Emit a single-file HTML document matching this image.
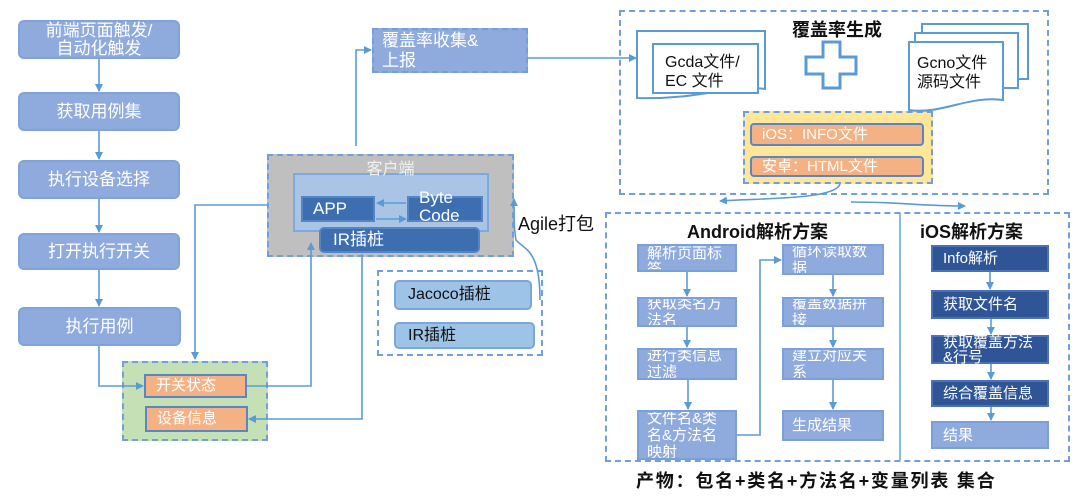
<!DOCTYPE html>
<html><head><meta charset="utf-8"><style>
body{margin:0;width:1080px;height:499px;background:#fff;position:relative;overflow:hidden;font-family:"Liberation Sans","Noto Sans CJK SC",sans-serif}
.b{position:absolute;box-sizing:border-box;display:flex;align-items:center;color:#fff;font-size:16px;line-height:18px}
.c{justify-content:center;text-align:center}
.lb{background:#8faadc;border:2px solid #7fa3db;border-radius:6px}
.ab{background:#8faadc;border:2px solid #7b9fd9;padding-left:8px;font-size:15px;line-height:17px;white-space:nowrap;overflow:hidden}
.ib{background:#2f5597;border:2px solid #4a72b8;padding-left:10px;font-size:15px;white-space:nowrap}
.or{background:#f4b183;border:2px solid #5b86c5;padding-left:10px;font-size:15px}
.dash{position:absolute;box-sizing:border-box;border:2px dashed #6fa0dc}
.t{position:absolute;font-weight:bold;color:#111;white-space:nowrap}
svg{position:absolute;left:0;top:0}
</style></head><body>
<div class="b c lb" style="left:18px;top:20px;width:162px;height:39px;font-size:17px">前端页面触发/<br>自动化触发</div>
<div class="b c lb" style="left:18px;top:92px;width:162px;height:39px;font-size:17px">获取用例集</div>
<div class="b c lb" style="left:18px;top:160px;width:162px;height:39px;font-size:17px">执行设备选择</div>
<div class="b c lb" style="left:18px;top:233px;width:162px;height:37px;font-size:17px">打开执行开关</div>
<div class="b c lb" style="left:18px;top:307px;width:163px;height:39px;font-size:17px">执行用例</div>

<div class="dash" style="left:372px;top:28px;width:156px;height:45px;background:#8faadc"></div>
<div class="b" style="left:382px;top:30px;font-size:17px;line-height:20px;width:140px;height:42px">覆盖率收集&amp;<br>上报</div>

<div class="dash" style="left:267px;top:154px;width:247px;height:103px;background:#bfbfbf"></div>
<div class="b" style="left:293px;top:173px;width:196px;height:59px;background:#a9c4e4;border:2px solid #7fa8dc"></div>
<div class="b c" style="left:267px;top:160px;width:247px;height:20px;font-size:16px;color:#f2f2f2">客户端</div>
<div class="b" style="left:301px;top:196px;width:74px;height:26px;background:#3d6eb0;border:2px solid #5585c5;padding-left:10px;font-size:17px">APP</div>
<div class="b" style="left:407px;top:196px;width:76px;height:26px;background:#3d6eb0;border:2px solid #5585c5;padding-left:10px;font-size:17px;line-height:18px;align-items:flex-start;overflow:visible"><span style="margin-top:-9px">Byte<br>Code</span></div>
<div class="b" style="left:319px;top:227px;width:161px;height:26px;background:#3d6eb0;border:2px solid #5585c5;border-radius:5px;padding-left:12px;font-size:17px">IR插桩</div>

<div class="dash" style="left:122px;top:361px;width:146px;height:80px;background:#c5e0b4"></div>
<div class="b or" style="left:144px;top:374px;width:103px;height:24px">开关状态</div>
<div class="b or" style="left:145px;top:406px;width:103px;height:26px">设备信息</div>

<div class="dash" style="left:377px;top:270px;width:166px;height:86px"></div>
<div class="b" style="left:394px;top:280px;width:138px;height:30px;background:#9dc3e6;border:2px solid #7aa6dc;border-radius:5px;color:#111;padding-left:12px;font-size:16px">Jacoco插桩</div>
<div class="b" style="left:394px;top:322px;width:141px;height:27px;background:#9dc3e6;border:2px solid #7aa6dc;border-radius:5px;color:#111;padding-left:12px;font-size:16px">IR插桩</div>
<div class="t" style="left:518px;top:210px;font-size:18px;font-weight:normal">Agile打包</div>

<div class="dash" style="left:619px;top:10px;width:430px;height:185px"></div>
<div class="t" style="left:792px;top:16px;font-size:18px">覆盖率生成</div>
<div class="dash" style="left:743px;top:111px;width:190px;height:73px;background:#ffe699"></div>
<div class="b or" style="left:750px;top:123px;width:174px;height:23px;border-radius:4px;font-size:15px">iOS：INFO文件</div>
<div class="b or" style="left:750px;top:156px;width:174px;height:21px;border-radius:4px;font-size:15px">安卓：HTML文件</div>

<div class="dash" style="left:605px;top:212px;width:465px;height:250px"></div>
<div class="t" style="left:687px;top:218px;font-size:18px">Android解析方案</div>
<div class="t" style="left:920px;top:218px;font-size:18px">iOS解析方案</div>
<div class="b ab" style="left:637px;top:244px;width:100px;height:28px;align-items:flex-start;line-height:16px">解析页面标<br>签</div>
<div class="b ab" style="left:637px;top:297px;width:100px;height:30px">获取类名方<br>法名</div>
<div class="b ab" style="left:637px;top:348px;width:100px;height:32px">进行类信息<br>过滤</div>
<div class="b ab" style="left:637px;top:410px;width:100px;height:50px">文件名&amp;类<br>名&amp;方法名<br>映射</div>
<div class="b ab" style="left:782px;top:244px;width:102px;height:31px">循环读取数<br>据</div>
<div class="b ab" style="left:782px;top:297px;width:102px;height:30px">覆盖数据拼<br>接</div>
<div class="b ab" style="left:782px;top:348px;width:102px;height:32px">建立对应关<br>系</div>
<div class="b ab" style="left:782px;top:410px;width:102px;height:31px">生成结果</div>
<div class="b ib" style="left:931px;top:245px;width:118px;height:27px">Info解析</div>
<div class="b ib" style="left:931px;top:290px;width:118px;height:29px">获取文件名</div>
<div class="b ib" style="left:931px;top:335px;width:118px;height:29px;line-height:15px">获取覆盖方法<br>&amp;行号</div>
<div class="b ib" style="left:931px;top:380px;width:118px;height:27px">综合覆盖信息</div>
<div class="b ab" style="left:931px;top:421px;width:118px;height:28px;padding-left:10px">结果</div>
<div class="t" style="left:636px;top:467px;font-size:18px;letter-spacing:1.8px">产物：包名+类名+方法名+变量列表 集合</div>

<svg width="1080" height="499">
<defs><marker id="a" markerWidth="8" markerHeight="8" refX="7" refY="4" orient="auto" markerUnits="userSpaceOnUse"><path d="M0,0 L8,4 L0,8 z" fill="#5b9bd5"/></marker></defs>
<g fill="none" stroke="#5b9bd5" stroke-width="1.6">
<path d="M99 59 V91" marker-end="url(#a)"/><path d="M99 131 V159" marker-end="url(#a)"/><path d="M99 199 V232" marker-end="url(#a)"/><path d="M99 270 V306" marker-end="url(#a)"/>
<path d="M99 346 V386 H143" marker-end="url(#a)"/>
<path d="M267 205 H195 V359" marker-end="url(#a)"/>
<path d="M247 386 H311 V243" marker-end="url(#a)"/>
<path d="M362 254 V419 H249" marker-end="url(#a)"/>
<path d="M356 146 V50 H371" marker-end="url(#a)"/>
<path d="M528 58 H636" marker-end="url(#a)"/>
<path d="M406 203 H377" marker-end="url(#a)"/><path d="M376 219 H406" marker-end="url(#a)"/>
<path d="M540 300 C540 250 525 250 516 240 C514 230 514 215 514 199" marker-end="url(#a)"/>
<path d="M840 184 C835 200 760 198 720 201" marker-end="url(#a)"/>
<path d="M851 202 C900 202 920 206 965 206" marker-end="url(#a)"/>
<path d="M687 272 V296" marker-end="url(#a)"/><path d="M687 327 V347" marker-end="url(#a)"/><path d="M688 380 V409" marker-end="url(#a)"/>
<path d="M737 435 H760 V260 H781" marker-end="url(#a)"/>
<path d="M833 275 V296" marker-end="url(#a)"/><path d="M833 327 V347" marker-end="url(#a)"/><path d="M833 380 V409" marker-end="url(#a)"/>
<path d="M990 272 V289" marker-end="url(#a)"/><path d="M991 319 V334" marker-end="url(#a)"/><path d="M991 364 V379" marker-end="url(#a)"/><path d="M991 407 V420" marker-end="url(#a)"/>
<path d="M900 213 V460" stroke-width="1.4"/>
</g>
<g fill="#fff" stroke="#5b9bd5" stroke-width="2">
<path d="M637 31 H765 V89 C730 84 700 100 637 98 Z"/>
<path d="M653 44 H758 V93 H653 Z"/>
<path d="M922 24 H1028 V79 H922 Z"/><path d="M915 33 H1018 V88 H915 Z"/>
<path d="M909 42 H1003 V100 C970 95 940 115 909 110 Z"/>
<path d="M823 42 H840 V57 H856 V74 H840 V88 H823 V74 H806 V57 H823 Z" stroke-width="3"/>
</g>
<text x="665" y="67" font-size="16" font-family="Liberation Sans,Noto Sans CJK SC,sans-serif" fill="#111">Gcda文件/</text>
<text x="665" y="86" font-size="16" font-family="Liberation Sans,Noto Sans CJK SC,sans-serif" fill="#111">EC 文件</text>
<text x="917" y="68" font-size="16" font-family="Liberation Sans,Noto Sans CJK SC,sans-serif" fill="#111">Gcno文件</text>
<text x="917" y="87" font-size="16" font-family="Liberation Sans,Noto Sans CJK SC,sans-serif" fill="#111">源码文件</text>
</svg>
</body></html>
